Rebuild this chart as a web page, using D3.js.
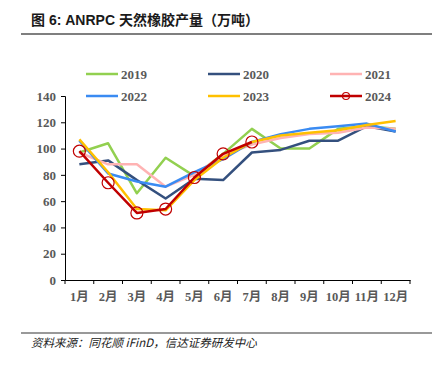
<!DOCTYPE html>
<html lang="en">
<head>
    <meta charset="UTF-8">
    <title></title>
    <style>
        body { margin: 0; background: #fff; }
    </style>
</head>
<body>
</body>
<script src="https://cdn.jsdelivr.net/npm/d3@7"></script>
<script>
    // data
    var months = ["1月", "2月", "3月", "4月", "5月", "6月", "7月", "8月", "9月", "10月", "11月", "12月"];
    var years = ["2019", "2020", "2021", "2022", "2023", "2024"];
    var v2019 = [97, 104, 66, 93, 79, 96, 115, 100, 100, 115, 117, 115];
    var v2020 = [88, 91, 76, 62, 77, 76, 97, 99, 106, 106, 117, 113];
    var v2021 = [97, 88, 88, 71, 80, 95, 103, 108, 111, 112, 116, 115];
    var v2022 = [106, 81, 75, 71, 82, 92, 105, 111, 115, 117, 119, 113];
    var v2023 = [107, 82, 54, 53, 76, 93, 105, 110, 112, 114, 118, 121];
    var v2024 = [98, 74, 51, 54, 78, 96, 105];
    var yTicks = [0, 20, 40, 60, 80, 100, 120, 140];
    var colors = ["#92D050", "#34507E", "#FFB3B3", "#3A8BF2", "#FFC000", "#C00000"];
    var series = [v2019, v2020, v2021, v2022, v2023, v2024];

    var svg = d3.select("body").append("svg")
            .attr("width", 434)
            .attr("height", 365);

    // title
    svg.append("text")
            .attr("x", 31).attr("y", 25)
            .style("font-family", "'Liberation Sans', 'Noto Sans CJK SC', sans-serif")
            .style("font-weight", "bold")
            .style("font-size", "14px")
            .style("fill", "#1a1a1a")
            .text("图 6:  ANRPC 天然橡胶产量（万吨）");
    svg.append("line")
            .attr("x1", 21).attr("x2", 432).attr("y1", 34).attr("y2", 34)
            .style("stroke", "#555").style("stroke-width", 1.5);

    var x = d3.scaleBand().domain(months).range([65, 410]);
    var y = d3.scaleLinear().domain([0, 140]).range([280, 96]);

    // axes
    var yAxis = svg.append("g")
            .attr("transform", "translate(65,0)")
            .call(d3.axisLeft(y).tickValues(yTicks).tickSize(4).tickPadding(5));
    yAxis.selectAll("text")
            .style("font-family", "'Liberation Serif', serif")
            .style("font-weight", "bold")
            .style("font-size", "13px")
            .style("fill", "#595959");

    var xAxis = svg.append("g")
            .attr("transform", "translate(0,280)")
            .call(d3.axisBottom(x).tickSize(0).tickPadding(12));
    xAxis.selectAll("text")
            .style("font-family", "'Liberation Serif', 'Noto Sans CJK SC', serif")
            .style("font-weight", "bold")
            .style("font-size", "12.5px")
            .style("fill", "#595959");
    // tick marks at band boundaries
    xAxis.selectAll("line.bound")
            .data(d3.range(months.length + 1))
            .enter().append("line")
            .attr("x1", function(i) { return 65 + i * x.step(); })
            .attr("x2", function(i) { return 65 + i * x.step(); })
            .attr("y1", 0).attr("y2", 4)
            .style("stroke", "#000");
    svg.selectAll(".domain").style("stroke", "#000");

    // lines
    var line = d3.line()
            .x(function(d, i) { return x(months[i]) + x.bandwidth() / 2; })
            .y(function(d) { return y(d); });

    series.forEach(function(s, k) {
        svg.append("path")
                .attr("d", line(s))
                .style("fill", "none")
                .style("stroke", colors[k])
                .style("stroke-width", 2.5)
                .style("stroke-linejoin", "round");
    });

    svg.selectAll("circle.pt")
            .data(v2024)
            .enter().append("circle")
            .attr("cx", function(d, i) { return x(months[i]) + x.bandwidth() / 2; })
            .attr("cy", function(d) { return y(d); })
            .attr("r", 6)
            .style("fill", "none")
            .style("stroke", "#C00000")
            .style("stroke-width", 1.2);

    // legend
    var leg = svg.selectAll("g.leg")
            .data(years)
            .enter().append("g")
            .attr("transform", function(d, i) {
                return "translate(" + (86 + (i % 3) * 122) + "," + (74 + Math.floor(i / 3) * 22) + ")";
            });
    leg.append("line")
            .attr("x1", 0).attr("x2", 32)
            .style("stroke", function(d, i) { return colors[i]; })
            .style("stroke-width", 2.5);
    leg.filter(function(d) { return d === "2024"; })
            .append("circle")
            .attr("cx", 16).attr("r", 3.5)
            .style("fill", "none")
            .style("stroke", "#C00000")
            .style("stroke-width", 1.2);
    leg.append("text")
            .attr("x", 35).attr("y", 4.5)
            .style("font-family", "'Liberation Serif', serif")
            .style("font-weight", "bold")
            .style("font-size", "13px")
            .style("fill", "#595959")
            .text(function(d) { return d; });

    // source
    svg.append("line")
            .attr("x1", 21).attr("x2", 432).attr("y1", 333).attr("y2", 333)
            .style("stroke", "#777").style("stroke-width", 1.5);
    svg.append("text")
            .attr("x", 31).attr("y", 347)
            .style("font-family", "'Noto Sans CJK SC', sans-serif")
            .style("font-style", "italic")
            .style("font-size", "11.5px")
            .style("fill", "#222")
            .text("资料来源：同花顺 iFinD，信达证券研发中心");
</script>
</html>
